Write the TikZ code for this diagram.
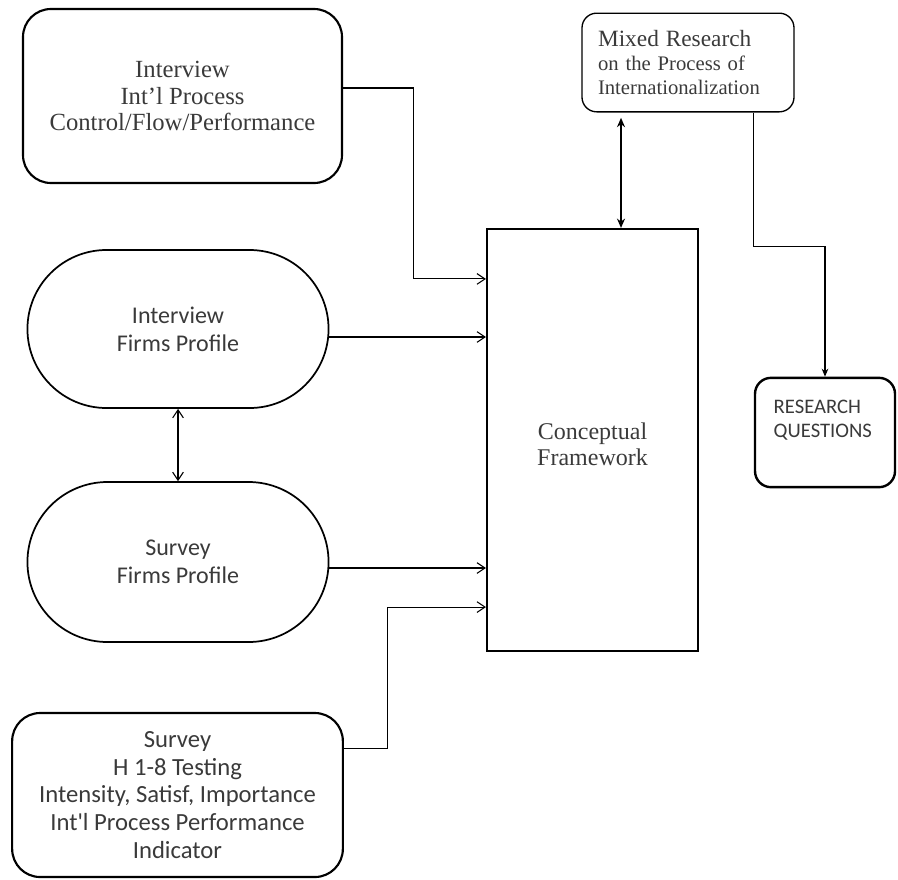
\documentclass[tikz,border=0pt]{standalone}
\usepackage{fontspec}
\setmainfont{Liberation Serif}
\newfontfamily\calib{Carlito}
\usetikzlibrary{shapes.misc, arrows.meta, positioning, calc}
\definecolor{inkgray}{RGB}{58, 58, 58}

\begin{document}
\begin{tikzpicture}[
  x=0.75pt, y=-0.75pt,
  rbox/.style={draw, line width=1.6pt, rounded corners=21pt, align=center, text=inkgray, font=\fontsize{18.5pt}{20pt}\selectfont},
  pill/.style={draw, rounded rectangle, line width=1.3pt, minimum width=232.5pt, align=center, text=inkgray, font=\calib\fontsize{18pt}{21pt}\selectfont},
  frame/.style={draw, line width=1.6pt, minimum width=158.25pt, minimum height=316.5pt, align=center, text=inkgray, font=\fontsize{18pt}{19.5pt}\selectfont},
  qbox/.style={draw, line width=1.8pt, rounded corners=12pt, align=left, text=inkgray, inner xsep=14pt, text width=77pt, minimum height=82pt, font=\calib\fontsize{15.5pt}{18pt}\selectfont},
  feed/.style={line width=0.8pt, -{Straight Barb[length=6pt, width=8pt]}},
  twoway/.style={line width=0.8pt, {Straight Barb[length=6pt, width=8pt]}-{Straight Barb[length=6pt, width=8pt]}},
  both/.style={line width=1pt, {Stealth[length=7pt, width=6pt]}-{Stealth[length=7pt, width=6pt]}},
  toq/.style={line width=0.8pt, -{Stealth[length=6pt, width=5pt]}}
]
  \useasboundingbox (0,0) rectangle (898,879);

  % sources on the left
  \node[rbox, minimum width=239.25pt, minimum height=130.5pt] (intproc) at (182.5,96) {Interview\\Int'l Process\\Control/Flow/Performance};
  \node[pill, minimum height=118.5pt] (intfirm) at (178,329) {Interview\\Firms Profile};
  \node[pill, minimum height=120pt] (survfirm) at (178,562) {Survey\\Firms Profile};
  \node[rbox, font=\calib\fontsize{18.5pt}{20.8pt}\selectfont, minimum width=248pt, minimum height=123pt] (survtest) at (177.5,795) {Survey\\H 1-8 Testing\\Intensity, Satisf, Importance\\Int'l Process Performance\\Indicator};

  % framework and research
  \node[frame] (cf) at (592.5,440) {\mbox{}\\Conceptual\\Framework};
  \node[draw, line width=1pt, rounded corners=11pt, align=left, text=inkgray, inner xsep=12pt, text width=135pt, minimum height=74pt, font=\fontsize{15.5pt}{18pt}\selectfont] (mixed) at (688,62.5)
    {{\fontsize{17.5pt}{18pt}\selectfont Mixed Research}\\on the Process of\\Internationalization};
  \node[qbox] (rq) at (825,432.5) {RESEARCH\\QUESTIONS\\[2pt]\mbox{}};

  % connectors
  \draw[feed] ([yshift=6pt]intproc.east) -- ++(70,0) |- ([yshift=-38.25pt]cf.north west);
  \draw[feed] ([yshift=-6pt]intfirm.east) -- ([yshift=-6pt]intfirm.east -| cf.west);
  \draw[feed] ([yshift=-4.5pt]survfirm.east) -- ([yshift=-4.5pt]survfirm.east -| cf.west);
  \draw[feed] ([yshift=35pt]survtest.east) -- ++(44,0) |- ([yshift=33.75pt]cf.south west);
  \draw[twoway] (intfirm.south) -- (survfirm.north);
  \draw[both, shorten <=4pt] ([xshift=-50.25pt]mixed.south) -- ([xshift=-50.25pt]mixed.south |- cf.north);
  \draw[toq] ([xshift=49pt]mixed.south) -- ++(0,134) -| (rq.north);
\end{tikzpicture}
\end{document}
